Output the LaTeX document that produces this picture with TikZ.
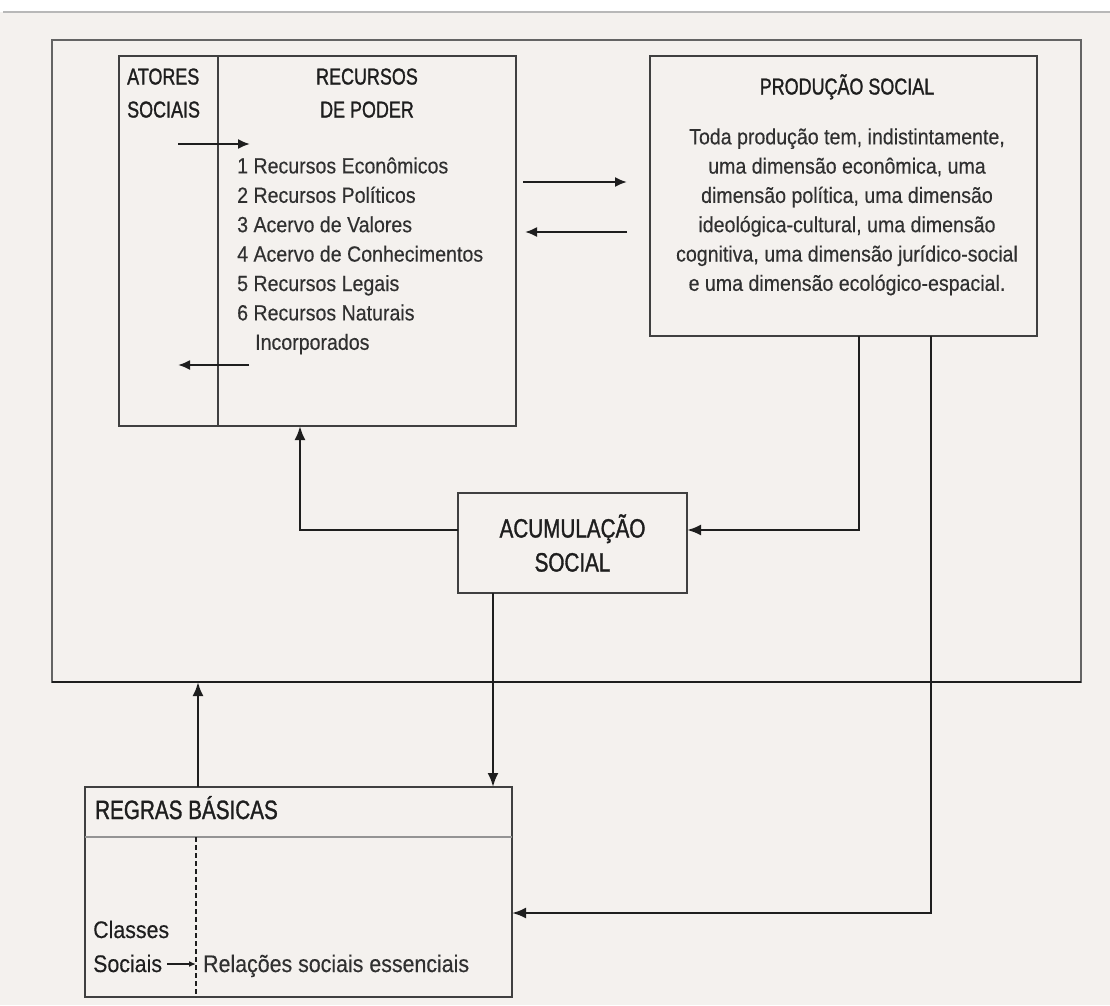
\documentclass[tikz,border=0pt]{standalone}
\usepackage{fontspec}
\setmainfont{Liberation Sans}
\newfontfamily\bodyfont{Liberation Sans}[FakeStretch=0.89, FakeBold=0.3]
\newfontfamily\headfont{Liberation Sans}[FakeStretch=0.78, FakeBold=1.2]
\usetikzlibrary{arrows.meta}
\definecolor{paper}{RGB}{244,241,238}
\definecolor{ink}{RGB}{30,30,30}
\definecolor{inkbody}{RGB}{48,48,48}
\definecolor{frame}{RGB}{100,100,100}

\begin{document}
\begin{tikzpicture}[x=1pt, y=-1pt,
  box/.style={draw=ink!85, line width=2pt, inner sep=0pt, outer sep=0pt},
  head/.style={text=ink, inner sep=0pt, font=\headfont\fontsize{23}{33}\selectfont},
  bighead/.style={text=ink, inner sep=0pt, font=\headfont\fontsize{26.5}{34}\selectfont},
  body/.style={text=inkbody, inner sep=0pt, font=\bodyfont\fontsize{22}{29}\selectfont},
  lowbody/.style={text=inkbody, inner sep=0pt, font=\bodyfont\fontsize{24}{35}\selectfont},
  arr/.style={draw=ink, line width=2.4pt, -{Latex[length=14pt, width=11pt]}},
  smallarr/.style={draw=ink, line width=2pt, -{Latex[length=12pt, width=10pt]}},
  tinyarr/.style={draw=ink, line width=1.6pt, -{Latex[length=7pt, width=6pt]}}]
\useasboundingbox (0,0) rectangle (1110,1005);
\fill[white] (0,0) rectangle (1110,1005);
\fill[paper] (0,12) rectangle (1110,1005);
\draw[black!28, line width=2pt] (3,12) -- (1110,12);

% guide coordinates
\coordinate (x196) at (196,0);
\coordinate (x198) at (198,0);
\coordinate (x218) at (218,0);
\coordinate (x300) at (300,0);
\coordinate (x493) at (493,0);
\coordinate (x859) at (859,0);
\coordinate (x931) at (931,0);
\coordinate (y530) at (0,530);
\coordinate (y837) at (0,837);
\coordinate (y913) at (0,913);

% outer frame
\node[box, draw=frame, minimum width=1029pt, minimum height=642pt] (outer) at (566.5,361) {};
\draw[ink, line width=2.4pt] (outer.south west) -- (outer.south east);

% atores / recursos de poder
\node[box, minimum width=397pt, minimum height=370pt] (rec) at (317.5,241) {};
\draw[ink!85, line width=1.6pt] (rec.north -| x218) -- (rec.south -| x218);
\node[head, anchor=base west] (atores) at (127,84.5) {ATORES};
\node[head, anchor=base west] (sociais) at (127,117.5) {SOCIAIS};
\node[head, anchor=base] (recursos) at (367,84.5) {RECURSOS};
\node[head, anchor=base] (depoder) at (367,117.5) {DE PODER};
\foreach \t [count=\i] in {Recursos Econômicos, Recursos Políticos, Acervo de Valores,
    Acervo de Conhecimentos, Recursos Legais, Recursos Naturais}
  \node[body, anchor=base west] (res\i) at (237,144+29.4*\i) {\i\ \t};
\node[body, anchor=base west] (res7) at (255,349.8) {Incorporados};
\coordinate (ain) at (178,144);
\coordinate (aout) at (250,144);
\coordinate (bin) at (249,365);
\coordinate (bout) at (178,365);
\draw[smallarr] (ain) -- (aout);
\draw[smallarr] (bin) -- (bout);

% producao social
\node[box, minimum width=387pt, minimum height=280pt] (prod) at (843.5,196) {};
\node[head, anchor=base] (prodtit) at (847,94.5) {PRODUÇÃO SOCIAL};
\foreach \t [count=\i] in {{Toda produção tem, indistintamente,},
    {uma dimensão econômica, uma},
    {dimensão política, uma dimensão},
    {ideológica-cultural, uma dimensão},
    {cognitiva, uma dimensão jurídico-social},
    {e uma dimensão ecológico-espacial.}}
  \node[body, anchor=base] (prodtxt\i) at (847,115+29.3*\i) {\t};
\coordinate (ma) at (523,182);
\coordinate (mb) at (627,182);
\coordinate (mc) at (627,232);
\coordinate (md) at (525,232);
\draw[smallarr] (ma) -- (mb);
\draw[smallarr] (mc) -- (md);

% acumulacao social
\node[box, bighead, align=center, minimum width=229pt, minimum height=100pt] (acum) at (572.5,543) {ACUMULAÇÃO\\SOCIAL};

% regras basicas
\node[box, minimum width=427pt, minimum height=210pt] (regras) at (298.5,892) {};
\draw[black!42, line width=2.5pt] (regras.west |- y837) -- (regras.east |- y837);
\draw[ink, line width=1.6pt, dash pattern=on 5pt off 3pt] (x196 |- y837) -- (x196 |- regras.south);
\node[bighead, anchor=base west] (regtit) at (95,819) {REGRAS BÁSICAS};
\node[lowbody, text=ink, anchor=base west] (classes) at (93,938) {Classes};
\node[lowbody, text=ink, anchor=base west] (sociais2) at (93,972) {Sociais};
\node[lowbody, anchor=base west] (relacoes) at (203,972) {Relações sociais essenciais};
\draw[tinyarr] (sociais2.east |- 0,964) ++(5,0) -- (x196 |- 0,964);

% connectors
\draw[arr] (prod.south -| x859) |- (acum.east |- y530);
\draw[arr] (acum.west |- y530) -| (rec.south -| x300);
\draw[arr] (acum.south -| x493) -- (regras.north -| x493);
\draw[arr] (prod.south -| x931) |- (regras.east |- y913);
\draw[arr] (regras.north -| x198) -- (outer.south -| x198);
\end{tikzpicture}
\end{document}
